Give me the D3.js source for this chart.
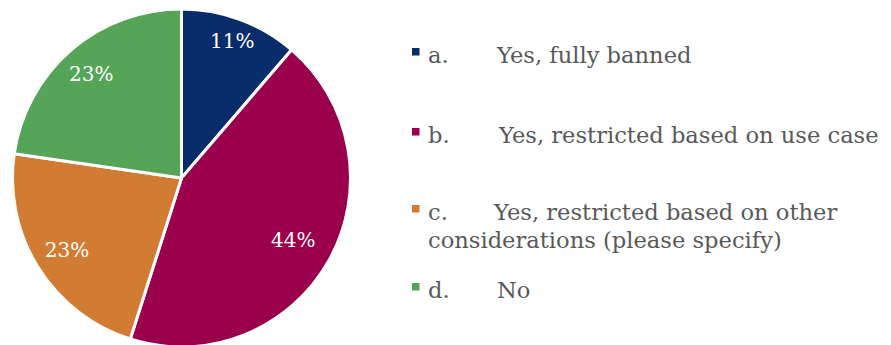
<!DOCTYPE html>
<html>
<head>
<meta charset="utf-8">
<script src="https://cdn.jsdelivr.net/npm/d3@7"></script>
<style>
  html, body { margin: 0; padding: 0; background: #ffffff; }
  svg { display: block; }
</style>
</head>
<body>
<svg id="chart" width="891" height="345"></svg>
<script>
// ---- data ----
const categories = ["a.", "b.", "c.", "d."];
const categoryText = [
  ["Yes, fully banned"],
  ["Yes, restricted based on use case"],
  ["Yes, restricted based on other", "considerations (please specify)"],
  ["No"]
];
const values = [11.3, 43.6, 22.4, 22.7];
const valueLabels = ["11%", "44%", "23%", "23%"];
const colors = ["#082D6A", "#9A004B", "#D27B32", "#55A457"];

// ---- layout ----
const svg = d3.select("#chart");
const cx = 181.5, cy = 178, R = 169;
const font = "'DejaVu Serif', Georgia, serif";
const labelRadius = [146, 128, 135, 138];

const pie = d3.pie().sort(null).value(d => d);
const arcs = pie(values);
const arc = d3.arc().innerRadius(0).outerRadius(R);

const g = svg.append("g").attr("transform", `translate(${cx},${cy})`);
g.selectAll("path.slice")
  .data(arcs)
  .join("path")
  .attr("class", "slice")
  .attr("d", arc)
  .attr("fill", (d, i) => colors[i])
  .attr("stroke", "#ffffff")
  .attr("stroke-width", 3)
  .attr("stroke-linejoin", "round");

g.selectAll("text.vlabel")
  .data(arcs)
  .join("text")
  .attr("class", "vlabel")
  .attr("transform", (d, i) => {
    const la = d3.arc().innerRadius(labelRadius[i]).outerRadius(labelRadius[i]);
    return `translate(${la.centroid(d)})`;
  })
  .attr("text-anchor", "middle")
  .attr("dy", "0.35em")
  .attr("fill", "#ffffff")
  .style("font-family", font)
  .style("font-size", "20px")
  .text((d, i) => valueLabels[i]);

// ---- legend ----
const legendX = 412, prefixX = 428;
const textX = [497, 499, 494, 497];
const baselines = [63, 143, 220, 298];
const lineGap = 28;
const legendFont = "22.6px";

const lg = svg.append("g");
categories.forEach((c, i) => {
  lg.append("rect")
    .attr("x", legendX)
    .attr("y", baselines[i] - 15)
    .attr("width", 7.5)
    .attr("height", 7.5)
    .attr("fill", colors[i]);
  const t = lg.append("text")
    .attr("y", baselines[i])
    .attr("fill", "#595959")
    .style("font-family", font)
    .style("font-size", legendFont);
  t.append("tspan").attr("x", prefixX).text(c);
  t.append("tspan").attr("x", textX[i]).text(categoryText[i][0]);
  for (let k = 1; k < categoryText[i].length; k++) {
    lg.append("text")
      .attr("x", prefixX)
      .attr("y", baselines[i] + lineGap * k)
      .attr("fill", "#595959")
      .style("font-family", font)
      .style("font-size", legendFont)
      .text(categoryText[i][k]);
  }
});
</script>
</body>
</html>
